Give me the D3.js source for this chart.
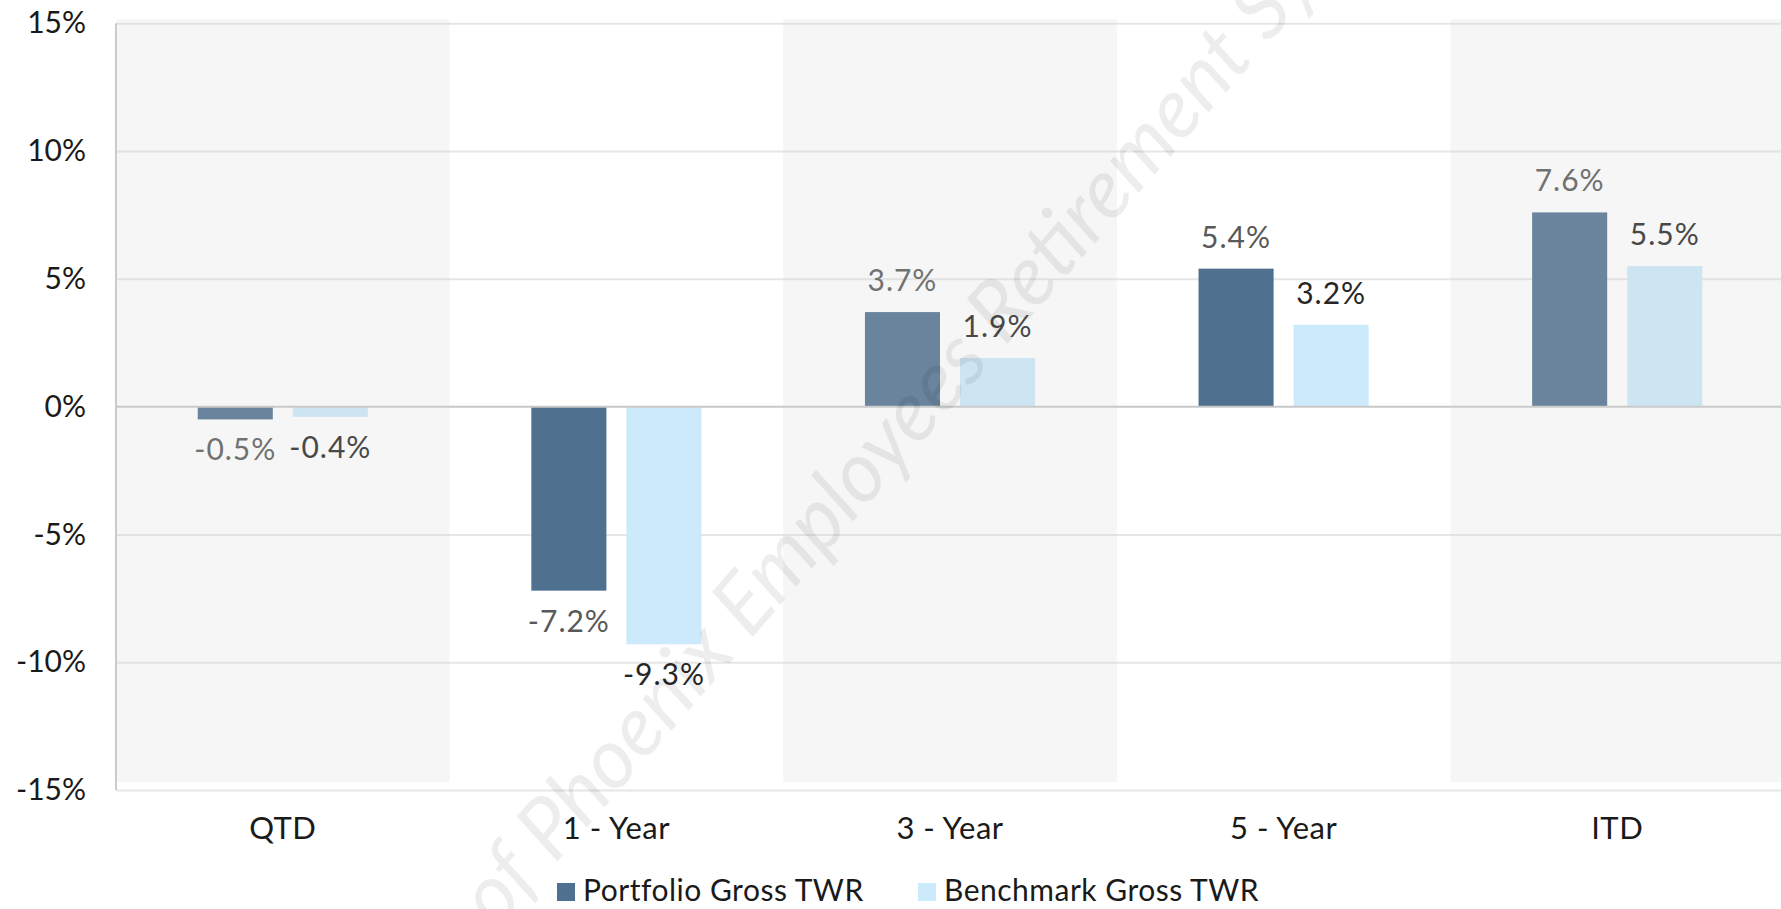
<!DOCTYPE html>
<html>
<head>
<meta charset="utf-8">
<script src="https://cdn.jsdelivr.net/npm/d3@7"></script>
<style>
  body { margin: 0; background: #fff; }
  svg { display: block; }
  text { font-family: Lato, "Open Sans", sans-serif; }
</style>
</head>
<body>
<script>
var WIDTH = 1781, HEIGHT = 909;

var categories = ["QTD", "1 - Year", "3 - Year", "5 - Year", "ITD"];
var seriesNames = ["Portfolio Gross TWR", "Benchmark Gross TWR"];
var portfolio = [-0.5, -7.2, 3.7, 5.4, 7.6];
var benchmark = [-0.4, -9.3, 1.9, 3.2, 5.5];
var yTicks = [-15, -10, -5, 0, 5, 10, 15];
var shaded = ["QTD", "3 - Year", "ITD"];

var colors = ["#4f718f", "#cceafc"];
var labelColors = ["#595959", "#262626"];

var _svg, _x0, _x1, _y;
var PLOT = {left: 116, right: 1784, top: 23.3, bottom: 790};

_svg = d3.select("body").append("svg")
  .attr("width", WIDTH)
  .attr("height", HEIGHT);

_y = d3.scaleLinear().domain([-15, 15]).range([PLOT.bottom, PLOT.top]);
_x0 = d3.scaleBand().domain(categories).range([PLOT.left, PLOT.right])
  .paddingInner(0.49).paddingOuter(0.245);
_x1 = d3.scaleBand().domain(seriesNames).range([0, _x0.bandwidth()]).paddingInner(0.2105);

// gridlines
var grid = _svg.append("g")
  .attr("transform", "translate(" + PLOT.left + ",0)")
  .call(d3.axisLeft(_y).tickValues(yTicks.filter(function(d){ return d !== 0; }))
    .tickSize(-(WIDTH - PLOT.left)).tickFormat(""));
grid.select(".domain").remove();
grid.selectAll("line").attr("stroke", "#e6e6e6").attr("stroke-width", 2);

// y axis line
_svg.append("line")
  .attr("x1", PLOT.left).attr("x2", PLOT.left)
  .attr("y1", PLOT.top).attr("y2", PLOT.bottom)
  .attr("stroke", "#cbcbcb").attr("stroke-width", 2);

// bars
var rows = categories.map(function(c, i){
  return {cat: c, vals: [portfolio[i], benchmark[i]]};
});

var groups = _svg.append("g").selectAll("g").data(rows).enter().append("g")
  .attr("transform", function(d){ return "translate(" + _x0(d.cat) + ",0)"; });

var items = groups.selectAll("g").data(function(d){
  return d.vals.map(function(v, j){ return {s: seriesNames[j], j: j, v: v}; });
}).enter().append("g");

items.append("rect")
  .attr("x", function(d){ return _x1(d.s); })
  .attr("width", _x1.bandwidth())
  .attr("y", function(d){ return _y(Math.max(0, d.v)); })
  .attr("height", function(d){ return Math.abs(_y(d.v) - _y(0)); })
  .attr("fill", function(d){ return colors[d.j]; });

items.append("text")
  .attr("x", function(d){ return _x1(d.s) + _x1.bandwidth() / 2; })
  .attr("y", function(d){ return d.v >= 0 ? _y(d.v) - 21 : _y(d.v) + 41; })
  .attr("text-anchor", "middle")
  .attr("font-size", 30)
  .attr("letter-spacing", 1)
  .attr("fill", function(d){ return labelColors[d.j]; })
  .text(function(d){ return d.v.toFixed(1) + "%"; });

// zero line
_svg.append("line")
  .attr("x1", PLOT.left).attr("x2", WIDTH)
  .attr("y1", _y(0)).attr("y2", _y(0))
  .attr("stroke", "#c8c8c8").attr("stroke-width", 2);

// shaded column overlays
_svg.append("g").selectAll("rect").data(shaded).enter().append("rect")
  .attr("x", function(d){ return _x0(d) + _x0.bandwidth() / 2 - _x0.step() / 2; })
  .attr("width", _x0.step())
  .attr("y", _y(15) - 4)
  .attr("height", _y(-15) - _y(15) - 4)
  .attr("fill", "#d0d0d0")
  .attr("opacity", 0.2);

// y tick labels
var yAxis = _svg.append("g")
  .attr("transform", "translate(" + PLOT.left + ",0)")
  .call(d3.axisLeft(_y).tickValues(yTicks).tickSize(0).tickPadding(30)
    .tickFormat(function(d){ return d + "%"; }));
yAxis.select(".domain").remove();
yAxis.selectAll("text")
  .attr("font-family", "Lato, sans-serif")
  .attr("font-size", 30)
  .attr("fill", "#1a1a1a");

// category labels
var xAxis = _svg.append("g")
  .attr("transform", "translate(0," + PLOT.bottom + ")")
  .call(d3.axisBottom(_x0).tickSize(0));
xAxis.select(".domain").remove();
xAxis.selectAll("text")
  .attr("y", 49).attr("dy", null)
  .attr("font-family", "Lato, sans-serif")
  .attr("font-size", 31)
  .attr("letter-spacing", 0.5)
  .attr("fill", "#1a1a1a");

// legend
var legendX = [557, 918];
var legend = _svg.append("g").selectAll("g").data(seriesNames).enter().append("g")
  .attr("transform", function(d, i){ return "translate(" + legendX[i] + ",883)"; });
legend.append("rect")
  .attr("width", 18).attr("height", 18)
  .attr("fill", function(d, i){ return colors[i]; });
legend.append("text")
  .attr("x", 26).attr("y", 18)
  .attr("font-size", 30)
  .attr("letter-spacing", 0.5)
  .attr("fill", "#1a1a1a")
  .text(function(d){ return d; });

// watermark, placed so that "Employees" starts near (750, 640)
var wmText = "Property of Phoenix Employees Retirement System";
var wmAngle = -49;
var wm = _svg.append("text")
  .attr("font-size", 84)
  .attr("font-style", "italic")
  .attr("fill", "#000")
  .attr("opacity", 0.065)
  .text(wmText);
var lead = wm.node().getSubStringLength(0, wmText.indexOf("Employees"));
var rad = wmAngle * Math.PI / 180;
var wx = 750 - lead * Math.cos(rad), wy = 640 - lead * Math.sin(rad);
wm.attr("transform", "translate(" + wx + "," + wy + ") rotate(" + wmAngle + ")");
</script>
</body>
</html>
